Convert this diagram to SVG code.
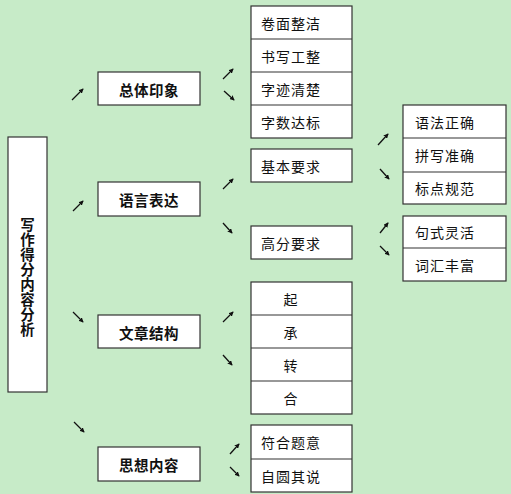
<svg xmlns="http://www.w3.org/2000/svg" width="511" height="494" viewBox="0 0 511 494">
<defs>
<marker id="ah" viewBox="0 0 6 6" refX="5" refY="3" markerWidth="5" markerHeight="5" orient="auto" markerUnits="userSpaceOnUse">
<path d="M0,0 L6,3 L0,6 Z" fill="#111"/>
</marker>
</defs>
<style>
.bx{fill:#fff;stroke:#333;stroke-width:1.2}
.ln{stroke:#333;stroke-width:1.2}
.t{font-family:"Noto Sans CJK SC","Noto Sans",sans-serif;font-size:14px;fill:#111;dominant-baseline:central;letter-spacing:1px}
.b{font-family:"Noto Sans CJK SC","Noto Sans",sans-serif;font-size:14.5px;font-weight:bold;fill:#111;dominant-baseline:central;text-anchor:middle;letter-spacing:0.5px}
.v{font-family:"Noto Sans CJK SC","Noto Sans",sans-serif;font-size:14.5px;font-weight:bold;fill:#111;writing-mode:vertical-rl;letter-spacing:0.5px}
.ar{stroke:#111;stroke-width:1.3;fill:none;marker-end:url(#ah)}
</style>
<rect width="511" height="494" fill="#c7ebc8"/>
<g id="root">
<rect class="bx" x="8" y="137" width="39" height="255"/>
<text class="v" x="27.5" y="217.5">写作得分内容分析</text>
</g>
<g id="n-zongti"><rect class="bx" x="98" y="72" width="102" height="33"/><text class="b" x="149" y="89">总体印象</text></g>
<g id="n-yuyan"><rect class="bx" x="98" y="182" width="102" height="34"/><text class="b" x="149" y="199">语言表达</text></g>
<g id="n-wenzhang"><rect class="bx" x="98" y="315" width="102" height="33"/><text class="b" x="149" y="332">文章结构</text></g>
<g id="n-sixiang"><rect class="bx" x="98" y="447" width="102" height="34"/><text class="b" x="149" y="464">思想内容</text></g>
<g id="n-zongti-items">
<rect class="bx" x="251" y="6" width="101" height="132"/>
<line class="ln" x1="251" y1="39" x2="352" y2="39"/>
<line class="ln" x1="251" y1="72" x2="352" y2="72"/>
<line class="ln" x1="251" y1="105" x2="352" y2="105"/>
<text class="t" x="261" y="22.5">卷面整洁</text>
<text class="t" x="261" y="55.5">书写工整</text>
<text class="t" x="261" y="88.5">字迹清楚</text>
<text class="t" x="261" y="121.5">字数达标</text>
</g>
<g id="n-jiben"><rect class="bx" x="251" y="149" width="101" height="33"/><text class="t" x="261" y="165.5">基本要求</text></g>
<g id="n-gaofen"><rect class="bx" x="251" y="226" width="101" height="33"/><text class="t" x="261" y="242.5">高分要求</text></g>
<g id="n-jiben-items">
<rect class="bx" x="403" y="105" width="103" height="99"/>
<line class="ln" x1="403" y1="138" x2="506" y2="138"/>
<line class="ln" x1="403" y1="172" x2="506" y2="172"/>
<text class="t" x="415" y="121.5">语法正确</text>
<text class="t" x="415" y="155">拼写准确</text>
<text class="t" x="415" y="188">标点规范</text>
</g>
<g id="n-gaofen-items">
<rect class="bx" x="403" y="216" width="103" height="65"/>
<line class="ln" x1="403" y1="248" x2="506" y2="248"/>
<text class="t" x="415" y="232">句式灵活</text>
<text class="t" x="415" y="264.5">词汇丰富</text>
</g>
<g id="n-wenzhang-items">
<rect class="bx" x="251" y="282" width="101" height="132"/>
<line class="ln" x1="251" y1="315" x2="352" y2="315"/>
<line class="ln" x1="251" y1="348" x2="352" y2="348"/>
<line class="ln" x1="251" y1="381" x2="352" y2="381"/>
<text class="t" x="291" y="298.5" text-anchor="middle">起</text>
<text class="t" x="291" y="331.5" text-anchor="middle">承</text>
<text class="t" x="291" y="364.5" text-anchor="middle">转</text>
<text class="t" x="291" y="397.5" text-anchor="middle">合</text>
</g>
<g id="n-sixiang-items">
<rect class="bx" x="251" y="425" width="101" height="67"/>
<line class="ln" x1="251" y1="459" x2="352" y2="459"/>
<text class="t" x="261" y="442">符合题意</text>
<text class="t" x="261" y="475.5">自圆其说</text>
</g>
<g id="connectors">
<path class="ar" d="M72,100 L83,89"/>
<path class="ar" d="M73,211 L83,201"/>
<path class="ar" d="M73,312 L83,322"/>
<path class="ar" d="M74,422 L84,432"/>
<path class="ar" d="M223,79 L233,69"/>
<path class="ar" d="M224,91 L234,100"/>
<path class="ar" d="M223,189 L233,179"/>
<path class="ar" d="M223,223 L232,233"/>
<path class="ar" d="M223,322 L233,312"/>
<path class="ar" d="M223,355 L232,365"/>
<path class="ar" d="M230,454 L239,444"/>
<path class="ar" d="M230,467 L239,476"/>
<path class="ar" d="M378,145 L388,134"/>
<path class="ar" d="M380,169 L389,179"/>
<path class="ar" d="M380,233 L388,223"/>
<path class="ar" d="M380,246 L389,255"/>
</g>
</svg>
